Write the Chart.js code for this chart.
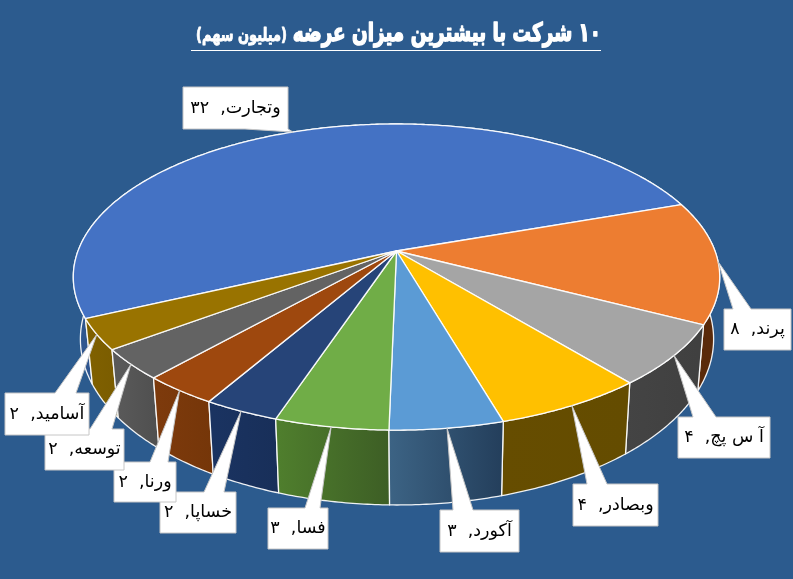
<!DOCTYPE html>
<html lang="fa">
<head>
<meta charset="utf-8">
<style>html,body{margin:0;padding:0;background:#2c5b8e}canvas{display:block}</style>
<script src="https://cdn.jsdelivr.net/npm/chart.js@4/dist/chart.umd.min.js"></script>
</head>
<body>
<canvas id="c" width="793" height="579"></canvas>
<script>
const categories = ["وتجارت","پرند","آ س پچ","وبصادر","آکورد","فسا","خساپا","ورنا","توسعه","آسامید"];
const values = [32,8,4,4,3,3,2,2,2,2];
const topColors = ["#4472c4","#ed7d31","#a5a5a5","#ffc000","#5b9bd5","#70ad47","#264478","#9e480e","#636363","#997300"];
const wallFrom = ["#2f568f","#6e3510","#444444","#664d00","#3c6384","#4f7e2d","#1a3361","#7d3a0c","#595959","#7f6000"];
const wallTo   = ["#2f568f","#5a2a0a","#404040","#644c00","#243f5c","#3d5e25","#182f59","#753609","#4f4f4f","#7a5c00"];
const titleMain = "۱۰ شرکت با بیشترین میزان عرضه";
const titleSub = "(میلیون سهم)";
// label box: left, top, right, bottom, wedge base start, wedge base end, base side
const labelBoxes = [
 [183,87,288,129,245,288,"b"],[724,309,791,350,733,751,"t"],[678,417,770,458,693,716,"t"],
 [573,484,658,526,587,607,"t"],[440,510,519,552,453,473,"t"],[268,508,328,549,305,320,"t"],
 [160,492,236,533,204,224,"t"],[114,462,176,502,150,168,"t"],[45,429,124,470,90,112,"t"],
 [5,393,89,435,55,76,"t"]
];
const ROT = 245;
const TOP = {cx:396.5,cy:251,rx:318.5,ry:148.6,k:0.17};
const BOTTOM = {cx:397,cy:311,rx:312,ry:161,k:0.17};

const fa = n => String(n).replace(/\d/g,d=>"۰۱۲۳۴۵۶۷۸۹"[d]);
const proj = (p,t)=>{const w=1-p.k*Math.sin(t);return [p.cx+p.rx*Math.cos(t)/w,p.cy+p.ry*Math.sin(t)/w];};
function rimPath(ctx,p,a,b,move){
  const n=Math.max(2,Math.ceil(Math.abs(b-a)/0.01));
  for(let i=0;i<=n;i++){const q=proj(p,a+(b-a)*i/n);(i===0&&move)?ctx.moveTo(q[0],q[1]):ctx.lineTo(q[0],q[1]);}
}
const pie3d = {
  id:'pie3d',
  beforeDatasetDraw(chart){
    const ctx=chart.ctx, arcs=chart.getDatasetMeta(0).data;
    ctx.save();
    ctx.lineJoin='round';
    ctx.strokeStyle='rgba(255,255,255,0.92)';
    ctx.lineWidth=1.3;
    // side walls, back to front
    const order=arcs.map((a,i)=>i).sort((i,j)=>proj(TOP,(arcs[i].startAngle+arcs[i].endAngle)/2)[1]-proj(TOP,(arcs[j].startAngle+arcs[j].endAngle)/2)[1]);
    order.forEach(i=>{
      const a=arcs[i], p0=proj(BOTTOM,a.startAngle), p1=proj(BOTTOM,a.endAngle);
      const g=ctx.createLinearGradient(Math.min(p0[0],p1[0]),0,Math.max(p0[0],p1[0]),0);
      g.addColorStop(0,wallFrom[i]);g.addColorStop(1,wallTo[i]);
      ctx.fillStyle=g;
      ctx.beginPath();
      rimPath(ctx,TOP,a.startAngle,a.endAngle,true);
      rimPath(ctx,BOTTOM,a.endAngle,a.startAngle,false);
      ctx.closePath();ctx.fill();ctx.stroke();
    });
    // top faces
    arcs.forEach((a,i)=>{
      ctx.fillStyle=topColors[i];
      ctx.beginPath();
      ctx.moveTo(TOP.cx,TOP.cy);
      rimPath(ctx,TOP,a.startAngle,a.endAngle,false);
      ctx.closePath();ctx.fill();ctx.stroke();
    });
    // callouts
    arcs.forEach((a,i)=>{
      const [l,t,r,b,w0,w1,side]=labelBoxes[i];
      const tip=proj(TOP,(a.startAngle+a.endAngle)/2);
      ctx.beginPath();
      ctx.moveTo(l,t);
      if(side==='t'){ctx.lineTo(w0,t);ctx.lineTo(tip[0],tip[1]);ctx.lineTo(w1,t);}
      ctx.lineTo(r,t);ctx.lineTo(r,b);
      if(side==='b'){ctx.lineTo(w1,b);ctx.lineTo(tip[0],tip[1]);ctx.lineTo(w0,b);}
      ctx.lineTo(l,b);ctx.closePath();
      ctx.fillStyle='#ffffff';ctx.strokeStyle='#c6c6c6';ctx.lineWidth=1;
      ctx.fill();ctx.stroke();
      ctx.fillStyle='#000';
      ctx.font='17.5px "DejaVu Sans"';
      ctx.direction='rtl';ctx.textAlign='center';ctx.textBaseline='middle';
      ctx.fillText(categories[i]+",  "+fa(values[i]),(l+r)/2,(t+b)/2);
    });
    // title, condensed horizontally to the reference's width
    ctx.direction='rtl';ctx.textAlign='right';ctx.textBaseline='alphabetic';
    ctx.fillStyle='#fff';ctx.strokeStyle='#fff';
    ctx.save();
    ctx.translate(601,41);ctx.scale(0.72,1);
    ctx.lineWidth=1.5;
    ctx.font='bold 25.5px "DejaVu Sans"';
    ctx.fillText(titleMain,0,0);ctx.strokeText(titleMain,0,0);
    const w=ctx.measureText(titleMain).width;
    ctx.lineWidth=0.9;
    ctx.font='bold 18px "DejaVu Sans"';
    ctx.fillText(titleSub,-w-8,0);ctx.strokeText(titleSub,-w-8,0);
    ctx.restore();
    ctx.lineWidth=1;
    ctx.beginPath();ctx.moveTo(191,50.5);ctx.lineTo(601,50.5);ctx.stroke();
    ctx.restore();
    return false;
  }
};
new Chart(document.getElementById('c'),{
  type:'pie',
  data:{labels:categories,datasets:[{data:values,backgroundColor:topColors,borderColor:'#fff'}]},
  options:{responsive:false,animation:false,rotation:ROT,
    plugins:{legend:{display:false},tooltip:{enabled:false},title:{display:false}}},
  plugins:[pie3d]
});
</script>
</body>
</html>
